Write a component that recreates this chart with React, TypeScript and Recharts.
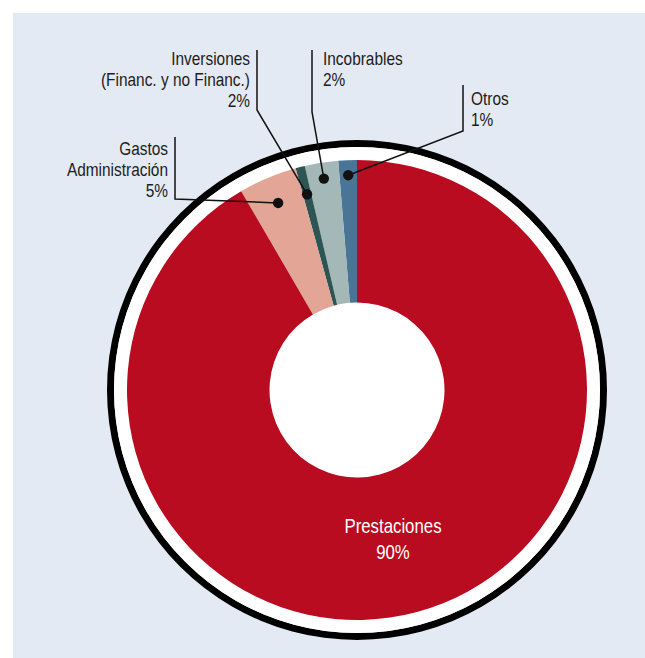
import React from 'react';
import { PieChart, Pie, Cell } from 'recharts';

// ---- data ----
const categories = ['Otros', 'Incobrables', 'Inversiones', 'Gastos Administración', 'Prestaciones'];
const shares = [1.3, 2.35, 0.65, 4.1, 91.6];
const percentLabels = ['1%', '2%', '2%', '5%', '90%'];
const labelTexts = [
  ['Otros'],
  ['Incobrables'],
  ['Inversiones', '(Financ. y no Financ.)'],
  ['Gastos', 'Administración'],
  ['Prestaciones'],
];
const colors = ['#4a7596', '#a4b9b7', '#2c5553', '#e3a696', '#b90c20'];

const pieData = categories.map((name, i) => ({ name, value: shares[i] }));

// ---- layout (relative to pie center) ----
const CX = 357;
const CY = 390;
const FONT = "'Liberation Sans', Arial, sans-serif";
const NARROW = 0.82;
const LINE_H = 21;
const RADIAN = Math.PI / 180;

type Callout = {
  dotR: number;
  elbow: [number, number];
  top: number;
  textX: number;
  anchor: 'start' | 'end' | 'middle';
  baseline: number;
  inside?: boolean;
};

const calloutLayout: Callout[] = [
  { dotR: 215, elbow: [106, -259], top: -305, textX: 114, anchor: 'start', baseline: -285 },
  { dotR: 214, elbow: [-45, -278], top: -340, textX: -34, anchor: 'start', baseline: -325 },
  { dotR: 202, elbow: [-100, -280], top: -340, textX: -107, anchor: 'end', baseline: -325 },
  { dotR: 203, elbow: [-182, -191], top: -253, textX: -189, anchor: 'end', baseline: -235 },
  { dotR: 0, elbow: [0, 0], top: 0, textX: 36, anchor: 'middle', baseline: 143, inside: true },
];

const NarrowText = ({ x, y, anchor, fill, size, children }: any) => (
  <text
    transform={`translate(${x},${y}) scale(${NARROW},1)`}
    x={0}
    y={0}
    textAnchor={anchor}
    fill={fill}
    fontFamily={FONT}
    fontSize={size}
  >
    {children}
  </text>
);

const renderCallout = (props: any) => {
  const { cx, cy, midAngle, index } = props;
  const c = calloutLayout[index];
  const lines = [...labelTexts[index], percentLabels[index]];
  if (c.inside) {
    return (
      <g key={`lbl-${index}`}>
        {lines.map((t, i) => (
          <NarrowText key={i} x={cx + c.textX} y={cy + c.baseline + i * 26} anchor="middle" fill="#ffffff" size={20.5}>
            {t}
          </NarrowText>
        ))}
      </g>
    );
  }
  const dx = cx + c.dotR * Math.cos(-midAngle * RADIAN);
  const dy = cy + c.dotR * Math.sin(-midAngle * RADIAN);
  const ex = cx + c.elbow[0];
  const ey = cy + c.elbow[1];
  const ty = cy + c.top;
  return (
    <g key={`lbl-${index}`}>
      <polyline
        points={`${dx},${dy} ${ex},${ey} ${ex},${ty}`}
        fill="none"
        stroke="#111"
        strokeWidth={1.5}
      />
      <circle cx={dx} cy={dy} r={5.2} fill="#111" />
      {lines.map((t, i) => (
        <NarrowText key={i} x={cx + c.textX} y={cy + c.baseline + i * LINE_H} anchor={c.anchor} fill="#1c1c1c" size={18.8}>
          {t}
        </NarrowText>
      ))}
    </g>
  );
};

const ring = [{ v: 1 }];

export default function App() {
  return (
    <div style={{ position: 'absolute', left: 0, top: 0, width: 645, height: 658, background: '#ffffff', overflow: 'hidden' }}>
      <div style={{ position: 'absolute', left: 13, top: 13, width: 632, height: 645, background: '#e4eaf3' }} />
      <div style={{ position: 'absolute', left: 0, top: 0 }}>
        <PieChart width={645} height={658} margin={{ top: 0, right: 0, bottom: 0, left: 0 }}>
          <Pie
            data={ring}
            dataKey="v"
            cx={CX}
            cy={CY}
            innerRadius={243}
            outerRadius={250}
            fill="#000000"
            stroke="none"
            isAnimationActive={false}
          />
          <Pie
            data={ring}
            dataKey="v"
            cx={CX}
            cy={CY}
            innerRadius={229}
            outerRadius={243}
            fill="#ffffff"
            stroke="none"
            isAnimationActive={false}
          />
          <Pie
            data={ring}
            dataKey="v"
            cx={CX}
            cy={CY}
            innerRadius={0}
            outerRadius={88}
            fill="#ffffff"
            stroke="none"
            isAnimationActive={false}
          />
          <Pie
            data={pieData}
            dataKey="value"
            nameKey="name"
            cx={CX}
            cy={CY}
            innerRadius={87.5}
            outerRadius={230}
            startAngle={90}
            endAngle={450}
            stroke="none"
            label={renderCallout}
            labelLine={false}
            isAnimationActive={false}
          >
            {pieData.map((d, i) => (
              <Cell key={d.name} fill={colors[i]} />
            ))}
          </Pie>
        </PieChart>
      </div>
    </div>
  );
}
